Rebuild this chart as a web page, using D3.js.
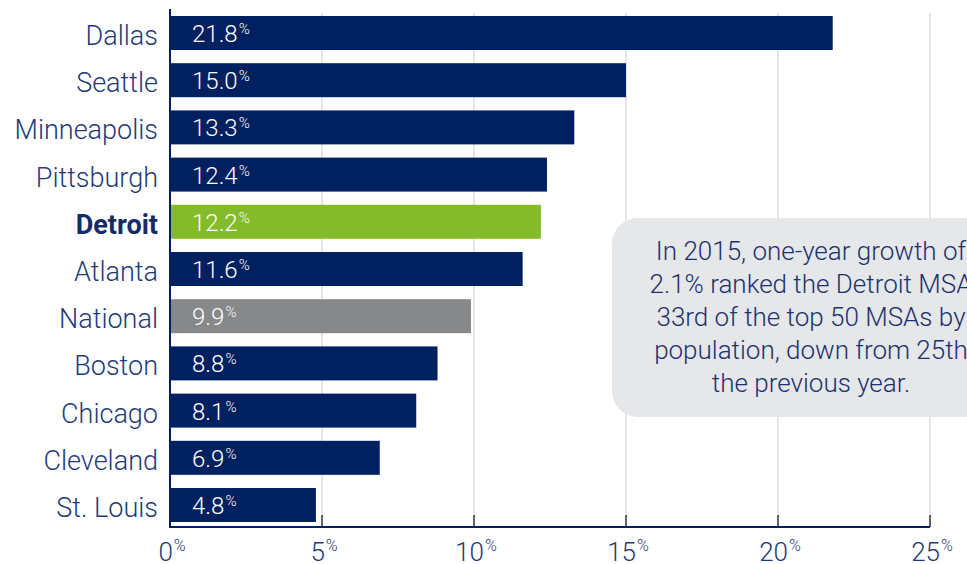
<!DOCTYPE html>
<html lang="en">
<head>
  <meta charset="UTF-8">
  <title>Growth by MSA</title>
  <style>
    body { margin: 0; background: #fff; }
    svg { display: block; font-family: 'Roboto', 'Liberation Sans', sans-serif; }
  </style>
</head>
<body>
  <svg width="967" height="564"></svg>
  <script src="https://d3js.org/d3.v7.min.js"></script>
  <script>
    // Data
    const cities = ['Dallas', 'Seattle', 'Minneapolis', 'Pittsburgh', 'Detroit', 'Atlanta',
                    'National', 'Boston', 'Chicago', 'Cleveland', 'St. Louis'];
    const growth = [21.8, 15.0, 13.3, 12.4, 12.2, 11.6, 9.9, 8.8, 8.1, 6.9, 4.8];
    const tickValues = [0, 5, 10, 15, 20, 25];
    const noteLines = [
      'In 2015, one-year growth of',
      '2.1% ranked the Detroit MSA',
      '33rd of the top 50 MSAs by',
      'population, down from 25th',
      'the previous year.'
    ];

    const navy = '#00205f', green = '#84bb2b', grey = '#87888a', textBlue = '#1f3a78';
    const barColor = c => c === 'Detroit' ? green : c === 'National' ? grey : navy;

    const svg = d3.select('svg');
    const axisY = 527;

    const x = d3.scaleLinear().domain([0, 25]).range([170, 930]);
    const y = d3.scaleBand().domain(cities).range([16, 522]).paddingInner(0.28).paddingOuter(0);

    const rows = cities.map((c, i) => ({ city: c, value: growth[i] }));

    // gridlines
    svg.append('g').selectAll('line')
      .data(tickValues.filter(d => d > 0))
      .join('line')
      .attr('x1', d => x(d)).attr('x2', d => x(d))
      .attr('y1', 13).attr('y2', axisY)
      .attr('stroke', '#e6e6e6').attr('stroke-width', 2);

    // callout box (over gridlines)
    svg.append('rect')
      .attr('x', 612).attr('y', 218)
      .attr('width', 420).attr('height', 199)
      .attr('rx', 26).attr('ry', 26)
      .attr('fill', '#e6e7e9');

    const note = svg.append('text')
      .attr('text-anchor', 'middle')
      .attr('font-size', 26)
      .attr('font-weight', 300)
      .attr('fill', '#1a3270');
    noteLines.forEach((line, i) => {
      note.append('tspan').attr('x', 811).attr('y', 260 + i * 33).text(line);
    });

    // bars
    svg.append('g').selectAll('rect')
      .data(rows)
      .join('rect')
      .attr('x', x(0))
      .attr('y', d => y(d.city))
      .attr('width', d => x(d.value) - x(0))
      .attr('height', y.bandwidth())
      .attr('fill', d => barColor(d.city));

    // value labels
    const vals = svg.append('g').selectAll('text')
      .data(rows)
      .join('text')
      .attr('x', 192)
      .attr('y', d => y(d.city) + y.bandwidth() / 2 + 9)
      .attr('fill', '#fff')
      .attr('font-size', 24)
      .attr('font-weight', 300);
    vals.append('tspan').text(d => d.value.toFixed(1));
    vals.append('tspan').attr('font-size', 15).attr('dy', -8).attr('dx', 1).text('%');

    // category labels
    svg.append('g').selectAll('text')
      .data(rows)
      .join('text')
      .attr('x', 158)
      .attr('y', d => y(d.city) + y.bandwidth() / 2 + 12)
      .attr('text-anchor', 'end')
      .attr('font-size', 27)
      .attr('font-weight', d => d.city === 'Detroit' ? 700 : 300)
      .attr('fill', d => d.city === 'Detroit' ? '#132b66' : textBlue)
      .text(d => d.city);

    // x axis
    svg.append('g').selectAll('line')
      .data(tickValues.filter(d => d > 0))
      .join('line')
      .attr('x1', d => x(d)).attr('x2', d => x(d))
      .attr('y1', axisY - 12).attr('y2', axisY)
      .attr('stroke', '#333').attr('stroke-width', 1.5);

    svg.append('line')
      .attr('x1', x(0)).attr('x2', x(25))
      .attr('y1', axisY).attr('y2', axisY)
      .attr('stroke', navy).attr('stroke-width', 2);

    svg.append('line')
      .attr('x1', x(0)).attr('x2', x(0))
      .attr('y1', 9).attr('y2', axisY + 1)
      .attr('stroke', navy).attr('stroke-width', 2);

    const ticks = svg.append('g').selectAll('text')
      .data(tickValues)
      .join('text')
      .attr('x', d => x(d) + 2)
      .attr('y', 561)
      .attr('text-anchor', 'middle')
      .attr('font-size', 26)
      .attr('font-weight', 300)
      .attr('fill', textBlue);
    ticks.append('tspan').text(d => d);
    ticks.append('tspan').attr('font-size', 16).attr('dy', -10).attr('dx', 1).text('%');
  </script>
</body>
</html>
